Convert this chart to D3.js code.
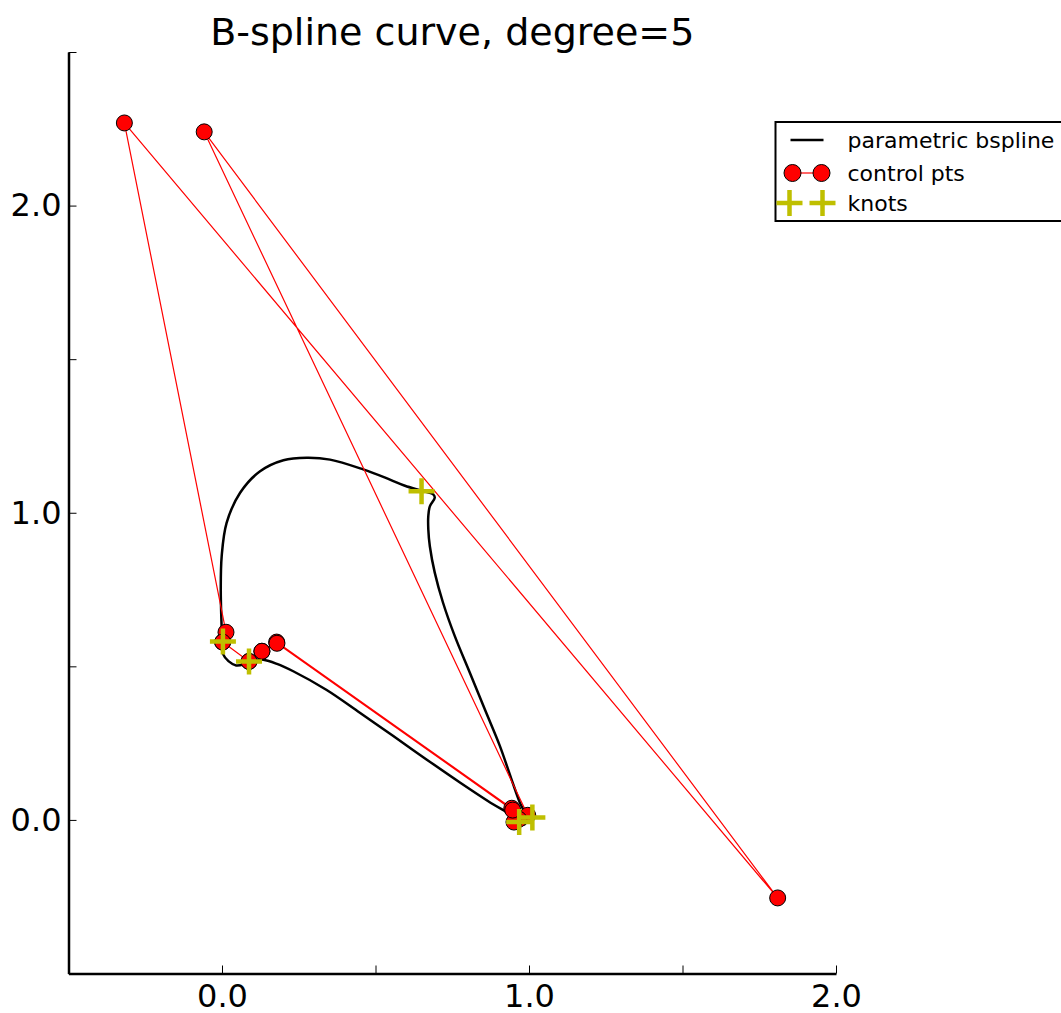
<!DOCTYPE html>
<html>
<head>
<meta charset="utf-8">
<script src="https://cdn.jsdelivr.net/npm/d3@7"></script>
<style>
  body { margin: 0; background: #fff; overflow: hidden; }
  svg { display: block; font-family: "DejaVu Sans", sans-serif; }
</style>
</head>
<body>
<svg id="chart" width="1061" height="1013"></svg>
<script>
// curve samples (x, y in data units)
var curveX = [0.967,0.938,0.883,0.775,0.666,0.558,0.449,0.341,0.232,0.179,0.130,0.098,0.072,0.046,0.021,0.004,0.001,-0.002,-0.004,-0.001,0.015,0.059,0.124,0.200,0.276,0.352,0.460,0.547,0.596,0.650,0.688,0.693,0.677,0.672,0.672,0.677,0.693,0.720,0.758,0.807,0.856,0.905,0.943,0.970,0.986,0.994,0.983,0.967];
var curveY = [-0.004,0.019,0.051,0.122,0.197,0.273,0.349,0.423,0.484,0.508,0.522,0.519,0.507,0.503,0.517,0.539,0.572,0.653,0.750,0.859,0.967,1.065,1.135,1.171,1.179,1.173,1.141,1.108,1.088,1.072,1.060,1.049,1.021,0.989,0.946,0.891,0.805,0.707,0.599,0.480,0.360,0.241,0.132,0.057,0.024,-0.001,-0.016,-0.004];

// control polygon (periodic: first points come round again at the end)
var ctrlX = [0.944,0.178,0.130,0.088,0.002,0.013,-0.318,1.810,-0.058,0.996,0.967,0.951,0.947,0.179,0.130,0.088,0.002];
var ctrlY = [0.038,0.579,0.549,0.516,0.579,0.611,2.269,-0.254,2.240,0.015,0.002,-0.007,0.032,0.575,0.549,0.516,0.579];

var knotX = [0.003,0.088,0.650,0.968,1.011];
var knotY = [0.581,0.516,1.070,-0.007,0.008];

var xTicks = [-0.5,0.0,0.5,1.0,1.5,2.0];
var yTicks = [-0.5,0.0,0.5,1.0,1.5,2.0,2.5];
var legendLabels = ["parametric bspline","control pts","knots"];
var title = "B-spline curve, degree=5";

var svg = d3.select("#chart");
var x = d3.scaleLinear().domain([-0.5,2.0]).range([68.5,836]);
var y = d3.scaleLinear().domain([-0.5,2.5]).range([973.5,52]);

var lbl = function(d){ return Math.abs(d - Math.round(d)) < 1e-9 ? d3.format(".1f")(d) : ""; };

// axes, ticks inside
var gx = svg.append("g").attr("transform","translate(0,"+y(-0.5)+")")
  .call(d3.axisBottom(x).tickValues(xTicks).tickFormat(lbl).tickSizeInner(-8).tickSizeOuter(0).tickPadding(11));
var gy = svg.append("g").attr("transform","translate("+x(-0.5)+",0)")
  .call(d3.axisLeft(y).tickValues(yTicks).tickFormat(lbl).tickSizeInner(-8).tickSizeOuter(0).tickPadding(7));
[gx,gy].forEach(function(g){
  g.select(".domain").attr("stroke","#000").attr("stroke-width",2.5);
  g.selectAll(".tick line").attr("stroke","#000").attr("stroke-width",1);
  g.selectAll(".tick text").attr("font-size",32).attr("fill","#000").attr("font-family","DejaVu Sans");
});

var plot = svg.append("g");
var line = d3.line().x(function(d){return x(d[0]);}).y(function(d){return y(d[1]);});

// bspline
var curvePts = curveX.map(function(v,i){ return [v, curveY[i]]; });
plot.append("path")
  .attr("fill","none").attr("stroke","#000").attr("stroke-width",2.5)
  .attr("d", line.curve(d3.curveCatmullRom.alpha(0.5))(curvePts));

// control polygon
var ctrlPts = ctrlX.map(function(v,i){ return [v, ctrlY[i]]; });
plot.append("path")
  .attr("fill","none").attr("stroke","#ff0000").attr("stroke-width",1.2)
  .attr("d", line.curve(d3.curveLinear)(ctrlPts));
plot.selectAll("circle.ctrl")
  .data(ctrlPts)
  .enter().append("circle")
  .attr("class","ctrl")
  .attr("cx",function(d){return x(d[0]);})
  .attr("cy",function(d){return y(d[1]);})
  .attr("r",8)
  .attr("fill","#ff0000").attr("stroke","#000").attr("stroke-width",1);

// knots
var plus = "M-13,0H13M0,-13V13";
plot.selectAll("path.knot")
  .data(knotX.map(function(v,i){ return [v, knotY[i]]; }))
  .enter().append("path")
  .attr("class","knot")
  .attr("d",plus)
  .attr("transform",function(d){ return "translate("+x(d[0])+","+y(d[1])+")"; })
  .attr("stroke","#bfbf00").attr("stroke-width",4.5).attr("fill","none");

// title
svg.append("text")
  .attr("x",(x.range()[0]+x.range()[1])/2).attr("y",45)
  .attr("text-anchor","middle").attr("font-size",38)
  .text(title);

// legend
var lg = svg.append("g").attr("transform","translate(775.5,122)");
lg.append("rect").attr("width",400).attr("height",99)
  .attr("fill","#fff").attr("stroke","#000").attr("stroke-width",2);
var rowY = [18, 51, 81];
lg.append("line").attr("x1",15).attr("x2",48).attr("y1",rowY[0]).attr("y2",rowY[0])
  .attr("stroke","#000").attr("stroke-width",2.5);
lg.append("line").attr("x1",17).attr("x2",46).attr("y1",rowY[1]).attr("y2",rowY[1])
  .attr("stroke","#ff0000").attr("stroke-width",1.2);
[17,46].forEach(function(cx){
  lg.append("circle").attr("cx",cx).attr("cy",rowY[1]).attr("r",8.5)
    .attr("fill","#ff0000").attr("stroke","#000").attr("stroke-width",1);
});
[14,47].forEach(function(cx){
  lg.append("path").attr("d",plus).attr("transform","translate("+cx+","+rowY[2]+")")
    .attr("stroke","#bfbf00").attr("stroke-width",4.5);
});
lg.selectAll("text.lab")
  .data(legendLabels)
  .enter().append("text")
  .attr("class","lab")
  .attr("x",72).attr("y",function(d,i){ return rowY[i]; })
  .attr("dy","0.35em")
  .attr("font-size",22)
  .text(function(d){ return d; });
</script>
</body>
</html>
